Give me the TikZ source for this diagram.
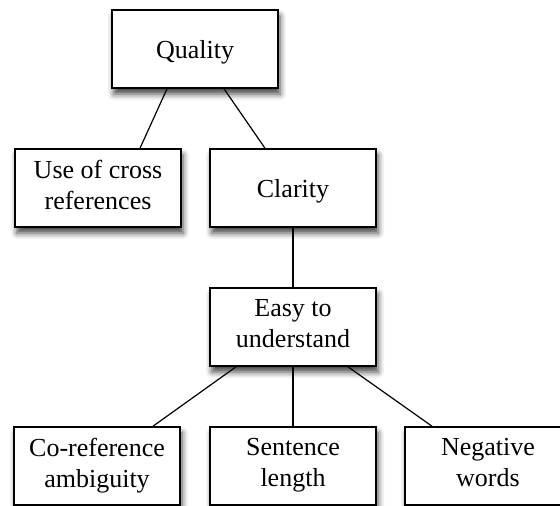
\documentclass[tikz,border=0pt]{standalone}
\usepackage{fontspec}
\setmainfont{Liberation Serif}
\usetikzlibrary{shadows.blur}
% invisible strut that fixes the height and depth of every text line
\newcommand\boxstrut{\rule[-6.75pt]{0pt}{31.5pt}}
\tikzset{
  box/.style={draw=black, line width=1.6pt, fill=white, align=center,
    minimum width=166pt, minimum height=78pt, inner sep=0pt,
    font=\fontsize{26}{31.5}\selectfont,
    execute at begin node=\boxstrut, execute at end node=\boxstrut,
    blur shadow={shadow xshift=2pt, shadow yshift=-6pt,
      shadow blur radius=6pt, shadow opacity=75}},
  link/.style={draw=black, line width=1.2pt}
}
\begin{document}
\begin{tikzpicture}[x=1pt, y=-1pt]
  \useasboundingbox (0,0) rectangle (560,506);
  % tree of quality attributes
  \node[box] (quality)  at (195,49)  {Quality};
  \node[box] (cross)    at (98,188)  {Use of cross\\references};
  \node[box] (clarity)  at (293,188) {Clarity};
  \node[box] (easy)     at (293,327) {Easy to\\understand};
  \node[box] (coref)    at (97,466)  {Co-reference\\ambiguity};
  \node[box] (sentence) at (293,466) {Sentence\\length};
  \node[box] (negative) at (488,466) {Negative\\words};
  % connectors
  \draw[link] ([xshift=-28pt]quality.south) -- ([xshift=42pt]cross.north);
  \draw[link] ([xshift=29pt]quality.south) -- ([xshift=-28pt]clarity.north);
  \draw[link] (clarity.south) -- (easy.north);
  \draw[link] ([xshift=-57pt]easy.south) -- ([xshift=56pt]coref.north);
  \draw[link] (easy.south) -- (sentence.north);
  \draw[link] ([xshift=55pt]easy.south) -- ([xshift=-56pt]negative.north);
\end{tikzpicture}
\end{document}
